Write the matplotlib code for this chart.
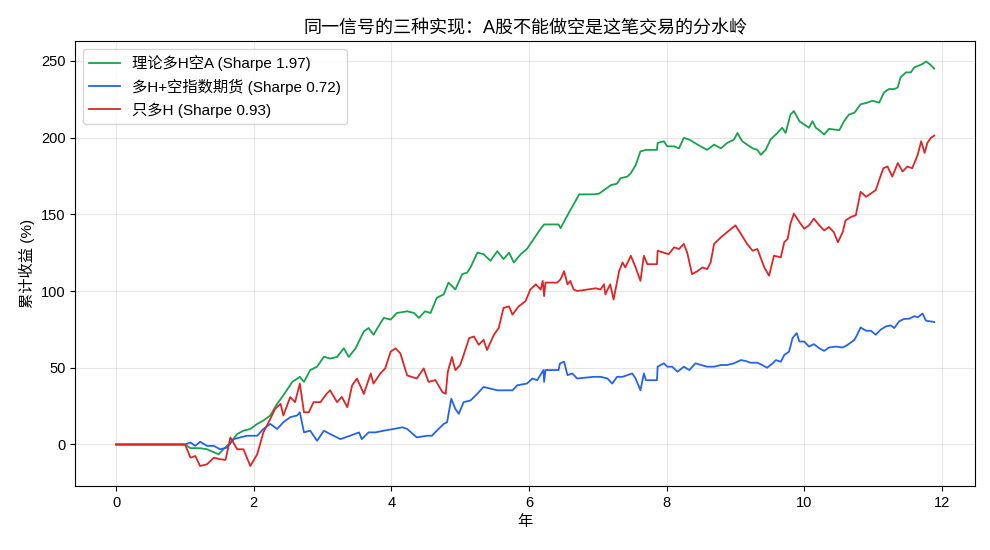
import matplotlib
matplotlib.use("Agg")
import matplotlib.pyplot as plt

# 理论多H空A
t_ls = [0, 1.0, 1.08, 1.22, 1.32, 1.49, 1.56, 1.66, 1.76, 1.85, 1.95, 2.05, 2.14, 2.24, 2.34,
        2.43, 2.56, 2.67, 2.73, 2.82, 2.92, 3.02, 3.11, 3.21, 3.31, 3.38, 3.48, 3.60, 3.67,
        3.74, 3.84, 3.89, 3.99, 4.08, 4.23, 4.33, 4.40, 4.49, 4.57, 4.66, 4.76, 4.83, 4.93,
        5.03, 5.10, 5.15, 5.25, 5.34, 5.44, 5.54, 5.63, 5.71, 5.78, 5.88, 5.97, 6.07, 6.17,
        6.22, 6.43, 6.46, 6.53, 6.60, 6.68, 6.73, 6.94, 7.02, 7.09, 7.19, 7.28, 7.33, 7.43,
        7.48, 7.55, 7.62, 7.70, 7.86, 7.87, 7.96, 8.01, 8.11, 8.18, 8.25, 8.33, 8.45, 8.59,
        8.69, 8.79, 8.88, 8.98, 9.03, 9.10, 9.17, 9.25, 9.32, 9.37, 9.44, 9.51, 9.61, 9.68,
        9.73, 9.80, 9.85, 9.93, 10.00, 10.07, 10.12, 10.17, 10.24, 10.29, 10.36, 10.43,
        10.51, 10.58, 10.65, 10.73, 10.82, 10.92, 10.99, 11.09, 11.16, 11.23, 11.31, 11.36,
        11.40, 11.48, 11.55, 11.60, 11.67, 11.72, 11.77, 11.82, 11.89]
v_ls = [0, 0, -2.4, -2.4, -3.1, -6.4, -3.1, 1.3, 6.8, 9.0, 10.1, 13.4, 15.6, 18.9, 26.5,
        32.0, 40.8, 44.1, 40.8, 48.5, 50.7, 57.2, 56.0, 57.0, 62.7, 57.0, 62.7, 73.7, 75.9,
        71.5, 79.0, 82.5, 81.4, 85.7, 86.8, 85.7, 82.5, 86.8, 85.7, 95.6, 97.8, 105.5, 101.0,
        111.0, 112.0, 115.4, 125.0, 124.0, 119.7, 126.0, 120.8, 125.0, 118.6, 124.0, 127.4,
        134.0, 140.6, 143.4, 143.4, 141.0, 147.0, 152.6, 159.0, 163.0, 163.0, 163.5, 165.8,
        169.0, 170.0, 173.5, 174.6, 176.8, 182.0, 191.0, 192.0, 192.0, 196.5, 197.6, 194.3,
        194.3, 193.0, 199.8, 198.7, 195.4, 192.0, 195.4, 193.0, 196.5, 198.7, 203.0, 197.6,
        195.4, 193.0, 192.0, 188.8, 192.0, 198.7, 203.0, 206.4, 203.0, 215.0, 217.3, 210.7,
        208.5, 206.4, 210.7, 206.4, 204.0, 202.0, 205.7, 205.3, 204.8, 210.7, 215.0, 216.2,
        221.7, 222.8, 224.0, 222.8, 229.4, 231.6, 231.6, 232.7, 239.3, 242.5, 242.5, 245.8,
        247.0, 248.0, 249.6, 248.0, 245.0]

# 多H+空指数期货
t_hedge = [0, 1.0, 1.08, 1.15, 1.22, 1.32, 1.42, 1.51, 1.61, 1.71, 1.80, 1.90, 2.05, 2.14,
           2.24, 2.34, 2.43, 2.53, 2.63, 2.67, 2.73, 2.82, 2.92, 3.02, 3.11, 3.26, 3.40,
           3.53, 3.57, 3.67, 3.77, 3.89, 4.03, 4.16, 4.23, 4.37, 4.52, 4.59, 4.66, 4.76,
           4.81, 4.87, 4.93, 4.98, 5.05, 5.15, 5.25, 5.34, 5.44, 5.54, 5.63, 5.76, 5.83,
           5.97, 6.05, 6.12, 6.21, 6.22, 6.24, 6.43, 6.45, 6.51, 6.56, 6.63, 6.70, 6.94,
           7.04, 7.14, 7.21, 7.28, 7.36, 7.43, 7.50, 7.55, 7.62, 7.67, 7.70, 7.86, 7.87,
           7.96, 8.01, 8.08, 8.16, 8.25, 8.33, 8.42, 8.50, 8.59, 8.69, 8.79, 8.88, 8.98,
           9.08, 9.15, 9.22, 9.32, 9.39, 9.46, 9.54, 9.59, 9.66, 9.71, 9.78, 9.83, 9.89,
           9.93, 10.00, 10.07, 10.14, 10.22, 10.29, 10.36, 10.46, 10.56, 10.63, 10.73,
           10.77, 10.82, 10.90, 10.97, 11.04, 11.11, 11.19, 11.26, 11.31, 11.38, 11.45,
           11.53, 11.60, 11.65, 11.72, 11.77, 11.82, 11.89]
v_hedge = [0, 0, 1.3, -0.9, 1.8, -0.9, -0.9, -3.1, -2.0, 3.5, 4.6, 5.7, 5.7, 10.1,
           13.4, 10.1, 14.5, 17.8, 18.9, 21.0, 7.9, 9.0, 2.4, 9.0, 6.8, 3.5, 5.7,
           7.9, 3.5, 7.9, 7.9, 9.0, 10.1, 11.2, 10.1, 4.6, 5.7, 5.7, 9.0, 13.4,
           14.5, 29.8, 23.2, 20.0, 27.6, 28.7, 33.1, 37.5, 36.4, 35.3, 35.3, 35.3, 38.6,
           39.7, 43.0, 41.9, 48.5, 40.8, 48.5, 48.5, 52.8, 54.0, 45.2, 46.3, 43.0, 44.1,
           44.1, 43.0, 39.7, 44.1, 44.1, 45.2, 46.3, 43.0, 35.3, 46.3, 41.9, 41.9, 50.7,
           52.9, 50.7, 50.7, 47.4, 50.7, 48.5, 52.9, 51.8, 50.7, 50.7, 51.8, 51.8, 52.9,
           55.0, 54.4, 53.3, 53.3, 51.8, 50.0, 52.8, 55.0, 53.9, 58.3, 60.5, 69.3, 72.6,
           67.1, 67.1, 63.8, 65.4, 62.7, 61.0, 63.2, 63.8, 63.2, 64.9, 68.2,
           71.5, 76.3, 74.1, 74.1, 71.5, 74.8, 77.0, 77.6, 75.9, 80.3, 81.8,
           82.0, 83.6, 82.9, 85.3, 80.7, 80.3, 79.8]

# 只多H
t_long = [0, 1.0, 1.03, 1.08, 1.15, 1.22, 1.32, 1.42, 1.51, 1.59, 1.66, 1.76, 1.85, 1.95,
          2.05, 2.14, 2.24, 2.31, 2.39, 2.43, 2.53, 2.60, 2.67, 2.73, 2.80, 2.87, 2.97,
          3.06, 3.11, 3.21, 3.28, 3.36, 3.43, 3.50, 3.60, 3.70, 3.74, 3.84, 3.91, 3.99,
          4.06, 4.13, 4.23, 4.37, 4.47, 4.54, 4.64, 4.74, 4.79, 4.82, 4.88, 4.93, 5.00,
          5.05, 5.13, 5.20, 5.27, 5.34, 5.39, 5.49, 5.56, 5.63, 5.71, 5.76, 5.85, 5.95,
          6.02, 6.10, 6.17, 6.20, 6.22, 6.24, 6.41, 6.46, 6.51, 6.56, 6.60, 6.65, 6.70,
          6.97, 7.04, 7.09, 7.11, 7.18, 7.23, 7.31, 7.36, 7.40, 7.48, 7.55, 7.62, 7.67,
          7.72, 7.86, 7.87, 7.96, 8.03, 8.11, 8.18, 8.25, 8.30, 8.37, 8.45, 8.52, 8.59,
          8.64, 8.69, 8.79, 8.88, 9.00, 9.08, 9.17, 9.25, 9.32, 9.42, 9.49, 9.56, 9.66,
          9.71, 9.76, 9.80, 9.85, 9.93, 10.00, 10.07, 10.14, 10.22, 10.29, 10.36, 10.43,
          10.49, 10.56, 10.60, 10.68, 10.75, 10.82, 10.90, 10.97, 11.04, 11.09, 11.15,
          11.21, 11.28, 11.36, 11.43, 11.50, 11.57, 11.65, 11.70, 11.75, 11.79, 11.84,
          11.89]
v_long = [0, 0, -3.0, -8.6, -7.5, -14.0, -12.9, -8.6, -9.6, -10.0, 4.6, -3.1, -3.1, -14.0,
          -6.4, 7.9, 16.7, 23.2, 26.5, 18.9, 30.9, 27.6, 39.7, 21.0, 21.0, 27.6, 27.6,
          33.1, 35.3, 27.6, 31.0, 24.3, 38.6, 43.0, 33.0, 46.3, 39.7, 46.3, 49.6, 60.5,
          62.7, 59.4, 45.0, 43.0, 49.6, 40.8, 42.0, 34.2, 33.0, 47.4, 57.0, 48.5, 51.8,
          58.3, 69.3, 70.4, 65.0, 68.2, 61.6, 71.5, 75.9, 89.0, 90.0, 84.6, 90.0, 93.4,
          101.0, 104.4, 101.0, 106.6, 96.7, 105.5, 105.5, 107.7, 113.0, 104.4, 106.6, 101.0, 100.0,
          101.8, 101.0, 104.4, 97.8, 104.4, 94.5, 113.0, 118.6, 115.4, 123.0, 115.4, 106.6, 123.0,
          117.5, 117.5, 126.3, 125.0, 124.0, 128.5, 127.4, 130.7, 125.0, 111.0, 113.0, 115.4, 114.3,
          118.6, 130.7, 135.0, 138.4, 142.8, 137.3, 130.7, 126.3, 127.4, 115.4, 110.0, 123.0, 122.0,
          131.8, 134.0, 143.9, 150.4, 145.0, 140.6, 142.8, 147.2, 142.8, 139.5, 141.7, 138.4,
          131.8, 138.4, 146.0, 148.3, 149.4, 164.7, 161.4, 163.6, 165.8, 172.4, 180.0,
          181.2, 174.6, 183.4, 177.9, 181.2, 180.0, 188.8, 197.6, 190.0, 196.5, 199.8,
          201.3]

labels = ["理论多H空A (Sharpe 1.97)", "多H+空指数期货 (Sharpe 0.72)", "只多H (Sharpe 0.93)"]
colors = ["#16a34a", "#2563eb", "#dc2626"]

# Latin glyphs from an Arial-like face, CJK falls through to Noto
plt.rcParams["font.family"] = ["Liberation Sans", "Noto Sans CJK SC", "DejaVu Sans"]
plt.rcParams["axes.unicode_minus"] = False

fig, ax = plt.subplots(figsize=(9.9, 5.5), dpi=100)
fig.subplots_adjust(left=0.076, right=0.985, top=0.925, bottom=0.116)

ax.plot(t_ls, v_ls, color=colors[0], lw=1.3, label=labels[0])
ax.plot(t_hedge, v_hedge, color=colors[1], lw=1.3, label=labels[1])
ax.plot(t_long, v_long, color=colors[2], lw=1.3, label=labels[2])

ax.set_title("同一信号的三种实现：A股不能做空是这笔交易的分水岭", fontsize=13)
ax.set_xlabel("年", fontsize=11)
ax.set_ylabel("累计收益 (%)", fontsize=11)
ax.tick_params(labelsize=10.5)
ax.grid(True, alpha=0.3)
ax.legend(loc="upper left", fontsize=11)

fig.savefig("out.png")
